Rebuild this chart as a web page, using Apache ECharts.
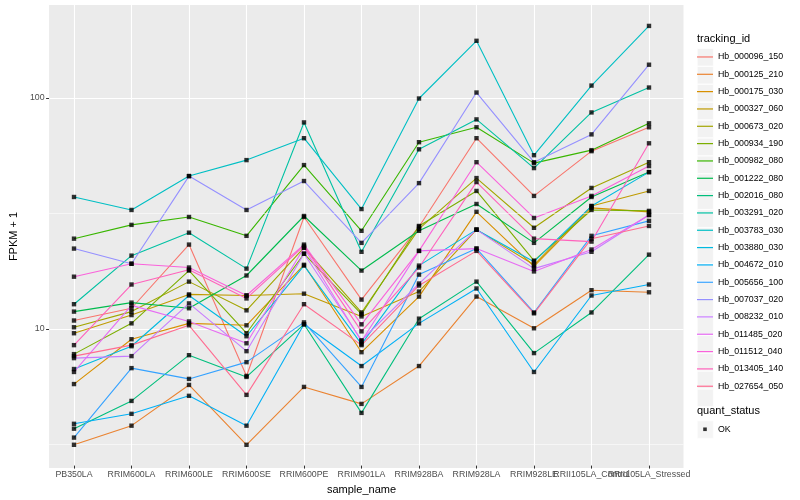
<!DOCTYPE html>
<html><head><meta charset="utf-8">
<script src="https://cdn.jsdelivr.net/npm/echarts@6/dist/echarts.min.js"></script>
<style>html,body{margin:0;padding:0;background:#fff}#c{width:800px;height:500px}</style>
</head><body><div id="c"></div>
<script>
// ---- data ----
const categories = ['PB350LA','RRIM600LA','RRIM600LE','RRIM600SE','RRIM600PE','RRIM901LA','RRIM928BA','RRIM928LA','RRIM928LE','RRII105LA_Control','RRII105LA_Stressed'];
const trackingIds = ['Hb_000096_150','Hb_000125_210','Hb_000175_030','Hb_000327_060','Hb_000673_020','Hb_000934_190','Hb_000982_080','Hb_001222_080','Hb_002016_080','Hb_003291_020','Hb_003783_030','Hb_003880_030','Hb_004672_010','Hb_005656_100','Hb_007037_020','Hb_008232_010','Hb_011485_020','Hb_011512_040','Hb_013405_140','Hb_027654_050'];
const lineColors = ['#F8766D','#EA8331','#D89000','#C09B00','#A3A500','#7CAE00','#39B600','#00BB4E','#00BF7D','#00C1A3','#00BFC4','#00BAE0','#00B0F6','#35A2FF','#9590FF','#C77CFF','#E76BF3','#FA62DB','#FF62BC','#FF6C91'];
// FPKM + 1 per sample, in category order
const hb_000096_150 = [10.7, 12.1, 22.9, 6.14, 30.2, 13.2, 27.4, 66.5, 37.3, 58.4, 74.2];
const hb_000125_210 = [3.08, 3.73, 5.61, 3.08, 5.50, 4.64, 6.78, 13.6, 9.9, 14.5, 14.2];
const hb_000175_030 = [5.66, 8.87, 10.4, 10.2, 18.7, 7.79, 13.6, 31.8, 18.4, 33.1, 31.8];
const hb_000327_060 = [9.42, 11.3, 13.9, 13.75, 14.0, 11.15, 14.3, 26.6, 18.7, 33.7, 39.2];
const hb_000673_020 = [10.0, 11.7, 15.8, 11.85, 22.2, 11.6, 26.8, 44.6, 27.1, 40.4, 52.3];
const hb_000934_190 = [7.64, 10.4, 17.65, 9.42, 20.9, 11.4, 27.6, 39.2, 19.5, 32.4, 32.1];
const hb_000982_080 = [24.3, 27.9, 30.2, 25.0, 50.8, 26.3, 63.9, 74.2, 51.8, 59.0, 77.2];
const hb_001222_080 = [11.7, 12.8, 12.1, 16.8, 30.5, 17.65, 26.3, 34.4, 23.3, 36.9, 47.35];
const hb_002016_080 = [3.62, 4.78, 7.56, 6.08, 10.3, 4.24, 10.9, 15.8, 7.72, 11.6, 20.7];
const hb_003291_020 = [12.6, 20.5, 25.8, 18.0, 77.9, 21.3, 59.5, 80.3, 49.3, 86.1, 110.5];
const hb_003783_030 = [36.9, 32.4, 45.5, 53.4, 66.5, 32.7, 99.0, 176.5, 56.1, 112.7, 204.9];
const hb_003880_030 = [6.58, 8.27, 13.75, 9.14, 18.55, 8.44, 18.55, 26.6, 19.3, 33.7, 47.35];
const hb_004672_010 = [3.80, 4.20, 5.03, 3.73, 10.3, 6.78, 10.4, 14.75, 6.39, 13.75, 15.35];
const hb_005656_100 = [3.31, 6.64, 5.96, 7.05, 10.5, 5.50, 16.95, 22.0, 11.6, 25.0, 29.05];
const hb_007037_020 = [22.0, 18.9, 45.5, 32.4, 43.3, 23.3, 42.4, 105.1, 52.3, 69.1, 138.9];
const hb_008232_010 = [7.34, 7.49, 12.7, 7.87, 20.9, 8.78, 15.5, 26.6, 18.0, 21.3, 30.8];
const hb_011485_020 = [6.39, 12.45, 10.6, 8.52, 22.2, 8.69, 21.5, 22.0, 17.5, 21.8, 30.8];
const hb_011512_040 = [16.6, 18.9, 18.2, 13.75, 22.9, 10.3, 21.5, 52.3, 29.9, 37.3, 50.3];
const hb_013405_140 = [8.36, 15.35, 17.8, 13.35, 22.6, 9.6, 18.2, 42.85, 24.3, 23.6, 63.2];
const hb_027654_050 = [7.49, 8.36, 10.2, 5.08, 12.6, 8.36, 15.2, 21.5, 11.5, 24.3, 27.6];
const yTicks = [10, 100];
const minorBreaks = [3.162, 31.62];
const statusLevels = ['OK'];

const seriesValues = [hb_000096_150, hb_000125_210, hb_000175_030, hb_000327_060, hb_000673_020, hb_000934_190, hb_000982_080, hb_001222_080, hb_002016_080, hb_003291_020, hb_003783_030, hb_003880_030, hb_004672_010, hb_005656_100, hb_007037_020, hb_008232_010, hb_011485_020, hb_011512_040, hb_013405_140, hb_027654_050];

// ---- chart ----
const FONT = '"Liberation Sans", Arial, Helvetica, sans-serif';
const chart = echarts.init(document.getElementById('c'));
const Y_MIN = 2.5, Y_MAX = 252.7;

const lineSeries = trackingIds.map((id, i) => ({
  name: id, type: 'line', xAxisIndex: 1, yAxisIndex: 1,
  data: seriesValues[i], showSymbol: false, symbol: 'none',
  color: lineColors[i],
  lineStyle: { color: lineColors[i], width: 1.1, opacity: 1 },
  itemStyle: { color: lineColors[i] },
  emphasis: { disabled: true }, silent: true, z: 2
}));
const pointData = [];
seriesValues.forEach(vals => vals.forEach((v, j) => pointData.push([j, v])));

const keyBg = { icon: 'rect', itemWidth: 16, itemHeight: 17.33, itemGap: 0, padding: 0, orient: 'vertical',
  selectedMode: false, itemStyle: { color: '#F2F2F2', borderColor: '#fff', borderWidth: 0.6 },
  textStyle: { color: 'rgba(0,0,0,0)', fontSize: 8.8, lineHeight: 17.33, fontFamily: FONT }, z: 3 };

const option = {
  animation: false,
  backgroundColor: '#fff',
  title: [
    { text: 'tracking_id', left: 697, top: 33, padding: 0, textStyle: { fontSize: 11, fontWeight: 'normal', color: '#000', fontFamily: FONT } },
    { text: 'quant_status', left: 697, top: 405.5, padding: 0, textStyle: { fontSize: 11, fontWeight: 'normal', color: '#000', fontFamily: FONT } }
  ],
  grid: [
    { left: 40, right: 116.5, top: 5, bottom: 32, show: true, backgroundColor: '#EBEBEB', borderWidth: 0, containLabel: false },
    { left: 74, right: 151, top: 5, bottom: 32, show: false, containLabel: false }
  ],
  xAxis: [
    { gridIndex: 0, type: 'category', data: [''], show: false },
    { gridIndex: 1, type: 'category', data: categories, boundaryGap: false,
      axisLine: { show: false },
      axisTick: { show: true, length: 3, lineStyle: { color: '#333', width: 1 } },
      axisLabel: { interval: 0, hideOverlap: false, fontSize: 8.8, color: '#4D4D4D', margin: 4.5, fontFamily: FONT },
      splitLine: { show: true, lineStyle: { color: '#fff', width: 1.1 } },
      name: 'sample_name', nameLocation: 'middle', nameGap: 13.5,
      nameTextStyle: { fontSize: 11, color: '#000', fontFamily: FONT } }
  ],
  yAxis: [
    { gridIndex: 0, type: 'log', logBase: 10, min: Y_MIN, max: Y_MAX,
      axisLine: { show: false },
      axisTick: { show: true, length: 3, customValues: yTicks, lineStyle: { color: '#333', width: 1 } },
      axisLabel: { customValues: yTicks, fontSize: 8.8, color: '#4D4D4D', margin: 4.5, fontFamily: FONT },
      splitLine: { show: true, lineStyle: { color: '#fff', width: 1.1 } },
      minorTick: { show: false }, minorSplitLine: { show: false },
      name: 'FPKM + 1', nameLocation: 'middle', nameGap: 21.5, nameRotate: 90,
      nameTextStyle: { fontSize: 11, color: '#000', fontFamily: FONT } },
    { gridIndex: 1, type: 'log', logBase: 10, min: Y_MIN, max: Y_MAX, show: false,
      splitLine: { show: false } }
  ],
  legend: [
    Object.assign({}, keyBg, { left: 697, top: 48.3, data: trackingIds.map(id => ({ name: id })) }),
    { left: 697, top: 48.3, orient: 'vertical', icon: 'rect', itemWidth: 16, itemHeight: 1.2, itemGap: 0, padding: 0,
      selectedMode: false, z: 4,
      data: trackingIds.map((id, i) => ({ name: id, itemStyle: { color: lineColors[i], borderWidth: 0, opacity: 1 } })),
      textStyle: { color: '#000', fontSize: 8.8, lineHeight: 17.33, fontFamily: FONT } },
    Object.assign({}, keyBg, { left: 697, top: 420.6, data: statusLevels.map(s => ({ name: s })) }),
    { left: 703.2, top: 420.6, orient: 'vertical', icon: 'rect', itemWidth: 3.6, itemHeight: 3.6, itemGap: 0, padding: 0,
      selectedMode: false, z: 4,
      data: statusLevels.map(s => ({ name: s, itemStyle: { color: '#000', borderWidth: 0 } })),
      textStyle: { color: '#000', fontSize: 8.8, lineHeight: 17.33, fontFamily: FONT, padding: [0, 0, 0, 6.2] } }
  ],
  series: [
    { name: '_minor', type: 'line', xAxisIndex: 0, yAxisIndex: 0, data: [], silent: true,
      markLine: { silent: true, symbol: 'none', animation: false, label: { show: false },
        lineStyle: { color: '#fff', width: 0.55, type: 'solid' },
        data: minorBreaks.map(v => ({ yAxis: v })) } }
  ].concat(lineSeries).concat([
    { name: statusLevels[0], type: 'scatter', xAxisIndex: 1, yAxisIndex: 1, data: pointData,
      symbol: 'rect', symbolSize: 4.4, itemStyle: { color: '#000' }, silent: true, z: 5 }
  ])
};
chart.setOption(option);
</script></body></html>
